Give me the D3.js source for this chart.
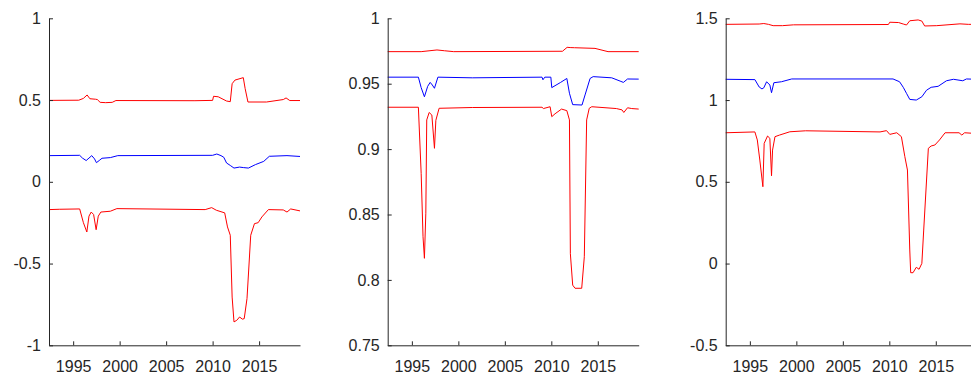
<!DOCTYPE html>
<html>
<head>
<meta charset="utf-8">
<script src="https://cdn.jsdelivr.net/npm/d3@7"></script>
<style>
  html, body { margin: 0; padding: 0; background: #fff; }
  svg { display: block; }
</style>
</head>
<body>
<div id="chart"></div>
<script>
// [year, value] pairs
const p1Upper = [[1992.4,0.498],[1995.6,0.499],[1996.1,0.51],[1996.5,0.531],[1996.8,0.508],[1997.4,0.505],[1997.6,0.503],[1997.9,0.486],[1998.5,0.484],[1999.2,0.486],[1999.6,0.497],[2008.1,0.496],[2010.0,0.498],[2010.1,0.523],[2010.6,0.52],[2011.5,0.494],[2011.9,0.49],[2012.1,0.60],[2012.4,0.622],[2013.3,0.637],[2013.5,0.57],[2013.8,0.488],[2015.8,0.488],[2017.6,0.503],[2017.9,0.513],[2018.3,0.497],[2019.4,0.497]];
const p1Mid = [[1992.4,0.160],[1995.7,0.162],[1996.0,0.145],[1996.4,0.130],[1996.7,0.145],[1997.0,0.160],[1997.3,0.140],[1997.5,0.117],[1997.8,0.13],[1998.1,0.144],[1999.0,0.148],[1999.8,0.160],[2010.0,0.162],[2010.45,0.170],[2010.9,0.16],[2011.2,0.150],[2011.5,0.115],[2011.9,0.10],[2012.3,0.084],[2012.9,0.090],[2013.3,0.087],[2013.85,0.084],[2014.6,0.105],[2015.5,0.125],[2016.1,0.156],[2018.0,0.160],[2019.4,0.155]];
const p1Lower = [[1992.4,-0.170],[1993.5,-0.168],[1995.7,-0.166],[1996.1,-0.25],[1996.47,-0.307],[1996.7,-0.21],[1996.94,-0.185],[1997.2,-0.20],[1997.47,-0.293],[1997.7,-0.21],[1997.98,-0.185],[1999.0,-0.18],[1999.7,-0.164],[2009.2,-0.170],[2009.9,-0.158],[2010.4,-0.174],[2011.3,-0.19],[2011.6,-0.276],[2011.9,-0.327],[2012.1,-0.705],[2012.3,-0.857],[2012.6,-0.847],[2012.9,-0.827],[2013.2,-0.84],[2013.4,-0.837],[2013.7,-0.714],[2014.1,-0.327],[2014.5,-0.256],[2014.9,-0.25],[2015.3,-0.215],[2016.0,-0.17],[2017.6,-0.172],[2018.0,-0.185],[2018.4,-0.166],[2019.4,-0.178]];

const p2Upper = [[1992.4,0.9745],[1996.0,0.9745],[1997.7,0.9758],[1998.5,0.9752],[1999.5,0.9745],[2011.2,0.9748],[2011.7,0.9778],[2012.1,0.9776],[2012.5,0.9775],[2014.7,0.977],[2016.1,0.9745],[2019.4,0.9745]];
const p2Mid = [[1992.4,0.955],[1995.7,0.955],[1996.0,0.947],[1996.35,0.940],[1996.7,0.948],[1996.97,0.951],[1997.2,0.949],[1997.43,0.9465],[1997.8,0.955],[2001.5,0.9545],[2009.0,0.955],[2009.1,0.953],[2009.3,0.955],[2009.95,0.955],[2010.05,0.947],[2011.0,0.951],[2011.67,0.954],[2011.95,0.9427],[2012.3,0.934],[2013.3,0.9337],[2013.63,0.9414],[2014.17,0.954],[2014.5,0.9554],[2016.5,0.9545],[2017.4,0.952],[2017.75,0.951],[2018.2,0.9536],[2019.4,0.9535]];
const p2Lower = [[1992.4,0.932],[1995.7,0.932],[1996.0,0.8815],[1996.2,0.833],[1996.35,0.8165],[1996.5,0.851],[1996.6,0.9223],[1996.86,0.928],[1997.15,0.926],[1997.43,0.9006],[1997.58,0.922],[1997.93,0.9312],[2001.5,0.9318],[2009.0,0.932],[2009.15,0.931],[2009.87,0.9324],[2010.05,0.9248],[2010.4,0.927],[2011.1,0.9306],[2011.67,0.9294],[2011.95,0.9223],[2012.05,0.820],[2012.3,0.796],[2012.55,0.7936],[2013.27,0.7936],[2013.55,0.8177],[2013.8,0.9223],[2014.08,0.9312],[2014.35,0.9324],[2017.0,0.931],[2017.6,0.93],[2017.8,0.928],[2018.2,0.9316],[2018.65,0.931],[2019.4,0.9306]];

const p3Upper = [[1992.4,1.463],[1996.0,1.465],[1996.5,1.468],[1997.0,1.463],[1997.5,1.455],[1998.5,1.455],[1999.7,1.46],[2009.9,1.462],[2010.05,1.476],[2011.0,1.474],[2011.5,1.465],[2011.85,1.459],[2012.2,1.485],[2013.1,1.49],[2013.5,1.483],[2013.8,1.453],[2015.1,1.455],[2017.6,1.466],[2018.5,1.463],[2019.4,1.463]];
const p3Mid = [[1992.4,1.127],[1995.54,1.125],[1996.0,1.08],[1996.3,1.068],[1996.5,1.075],[1996.8,1.112],[1997.15,1.092],[1997.33,1.045],[1997.58,1.106],[1998.4,1.112],[1999.5,1.129],[2010.4,1.129],[2011.1,1.112],[2011.5,1.078],[2011.85,1.041],[2012.2,1.004],[2012.9,1.0],[2013.5,1.02],[2014.0,1.06],[2014.5,1.078],[2015.25,1.084],[2016.15,1.118],[2016.9,1.127],[2017.9,1.118],[2018.3,1.129],[2019.4,1.127]];
const p3Lower = [[1992.4,0.80],[1995.54,0.805],[1995.8,0.756],[1996.07,0.633],[1996.4,0.47],[1996.54,0.735],[1996.9,0.78],[1997.15,0.766],[1997.33,0.537],[1997.44,0.694],[1997.7,0.776],[1998.2,0.786],[1999.3,0.806],[2001.0,0.812],[2009.0,0.805],[2009.7,0.813],[2010.05,0.79],[2010.8,0.80],[2011.3,0.776],[2011.67,0.654],[2011.95,0.572],[2012.2,0.083],[2012.3,-0.056],[2012.55,-0.056],[2012.9,-0.023],[2013.2,-0.035],[2013.5,0.001],[2013.7,0.205],[2014.2,0.705],[2014.5,0.719],[2014.9,0.725],[2015.4,0.756],[2016.0,0.80],[2017.5,0.80],[2017.8,0.786],[2018.1,0.80],[2019.4,0.795]];

const xTicks = [1995, 2000, 2005, 2010, 2015];
const p1YTicks = [-1, -0.5, 0, 0.5, 1];
const p2YTicks = [0.75, 0.8, 0.85, 0.9, 0.95, 1];
const p3YTicks = [-0.5, 0, 0.5, 1, 1.5];

const panels = [
  { left: 49, yDomain: [-1, 1], yTicks: p1YTicks, series: [p1Upper, p1Mid, p1Lower] },
  { left: 387.7, yDomain: [0.75, 1], yTicks: p2YTicks, series: [p2Upper, p2Mid, p2Lower] },
  { left: 725.7, yDomain: [-0.5, 1.5], yTicks: p3YTicks, series: [p3Upper, p3Mid, p3Lower] },
];
const seriesColors = ['#ff0000', '#0000ff', '#ff0000'];

const width = 971, height = 377;
const plotTop = 18.3, plotBottom = 345.3, panelWidth = 251;
const axisColor = '#262626';

const svg = d3.select('#chart').append('svg')
  .attr('width', width)
  .attr('height', height)
  .attr('font-family', '"Liberation Sans", Arial, sans-serif');

const x = d3.scaleLinear().domain([1992.4, 2019.4]);
// matlab prints a plain hyphen for negatives
const yFormat = (d) => String(d);

panels.forEach((p) => {
  const xs = x.copy().range([p.left, p.left + panelWidth]);
  const y = d3.scaleLinear().domain(p.yDomain).range([plotBottom, plotTop]);
  const g = svg.append('g');

  const line = d3.line().x((d) => xs(d[0])).y((d) => y(d[1]));
  g.append('g')
    .attr('fill', 'none')
    .attr('stroke-width', 1)
    .attr('stroke-linejoin', 'round')
    .selectAll('path')
    .data(p.series)
    .join('path')
    .attr('stroke', (_, i) => seriesColors[i])
    .attr('d', line);

  // y axis, ticks point inward (matlab style)
  const ya = g.append('g')
    .attr('transform', `translate(${p.left},0)`)
    .call(d3.axisLeft(y).tickValues(p.yTicks).tickFormat(yFormat).tickSizeInner(-4).tickSizeOuter(0).tickPadding(8));

  const xa = g.append('g')
    .attr('transform', `translate(0,${plotBottom})`)
    .call(d3.axisBottom(xs).tickValues(xTicks).tickFormat(d3.format('d')).tickSizeInner(-4).tickSizeOuter(0).tickPadding(15.6));

  [ya, xa].forEach((a) => {
    a.attr('font-size', 16).attr('font-family', null);
    a.select('.domain').attr('stroke', axisColor);
    a.selectAll('line').attr('stroke', axisColor);
    a.selectAll('text').attr('fill', axisColor);
  });
});
</script>
</body>
</html>
